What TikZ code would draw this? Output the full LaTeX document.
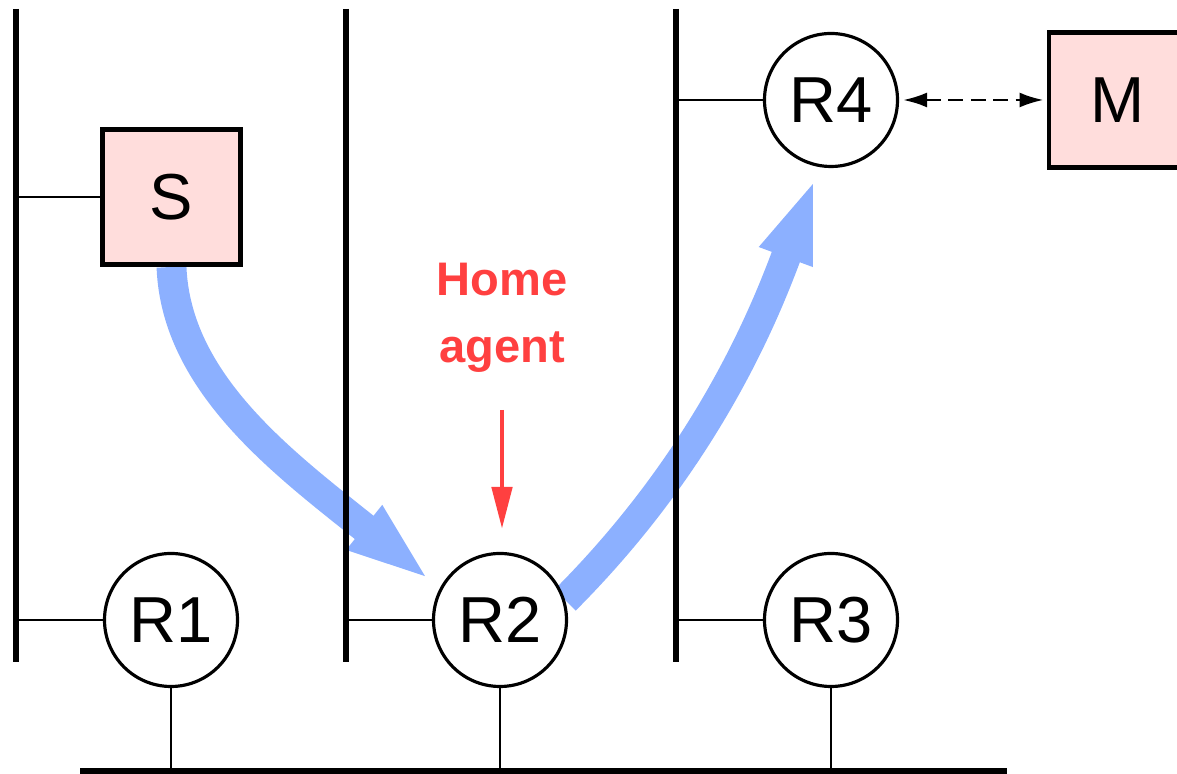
\documentclass[tikz,border=0pt]{standalone}
\usepackage{fontspec}
\setmainfont{Liberation Sans}
\usetikzlibrary{arrows.meta,positioning,calc,backgrounds}
\definecolor{hostpink}{HTML}{FFDDDC}
\definecolor{flowblue}{HTML}{8CB0FF}
\definecolor{agentred}{HTML}{FF4040}
\tikzset{
  router/.style={circle, draw, line width=0.9pt, fill=white, minimum size=1.33cm, inner sep=0pt},
  host/.style={rectangle, draw, line width=1.4pt, fill=hostpink, minimum width=1.38cm, minimum height=1.35cm, inner sep=0pt},
  lan/.style={line width=1.7pt},
  tap/.style={line width=0.75pt},
  flow/.style={flowblue, line width=8.5pt, -{Triangle[length=0.85cm,width=0.5cm]}}
}

\begin{document}
\begin{tikzpicture}[font=\fontsize{18.5}{22}\selectfont]
  \useasboundingbox (0,0) rectangle (11.77,7.74);

  % Backbone and the three LAN segments
  \coordinate (busL) at (0.80,0.03);
  \coordinate (busR) at (10.07,0.03);
  \draw[lan] (busL) -- (busR);
  \foreach \x/\n in {0.16/A,3.46/B,6.76/C} {
    \coordinate (lan\n-top) at (\x,7.65);
    \coordinate (lan\n-bot) at (\x,1.12);
    \draw[lan] (lan\n-top) -- (lan\n-bot);
  }

  % Hosts and routers
  \node[host] (S) at (1.715,5.77) {S};
  \node[host] (M) at (11.18,6.74) {M};
  \node[router] (R1) at (1.71,1.54) {R1};
  \node[router] (R2) at (5.00,1.54) {R2};
  \node[router] (R3) at (8.31,1.54) {R3};
  \node[router] (R4) at (8.31,6.74) {R4};

  % Attachments
  \draw[tap] (lanA-top |- S.west) -- (S.west);
  \draw[tap] (lanA-top |- R1.west) -- (R1.west);
  \draw[tap] (lanB-top |- R2.west) -- (R2.west);
  \draw[tap] (lanC-top |- R3.west) -- (R3.west);
  \draw[tap] (lanC-top |- R4.west) -- (R4.west);
  \foreach \r in {R1,R2,R3}
    \draw[tap] (\r.south) -- (\r.south |- busL);
  \draw[tap, dash pattern=on 4.2pt off 2.2pt, {Latex[length=2.4mm,width=1.5mm]}-{Latex[length=2.4mm,width=1.5mm]}, shorten <=0.04cm, shorten >=0.03cm] (R4.east) -- (M.west);

  % Home agent label
  \node[agentred, font=\fontsize{13.4}{19}\selectfont\bfseries, align=center] (ha) at (5.02,4.56) {Home\\agent};
  \draw[agentred, line width=1.4pt, -{Triangle[length=4.2mm,width=2mm]}, shorten <=0.25cm, shorten >=0.23cm] (ha.south) -- (ha.south |- R2.north);

  % Tunnelled packet flow
  \begin{scope}[on background layer]
    \draw[flow, shorten >=0.12cm] (S.south) .. controls (1.76,3.9) and (2.85,3.1) .. (R2.152);
    \draw[flow, shorten >=0.11cm] (R2.17) .. controls (7.06,3.15) and (7.64,4.58) .. (R4.260);
  \end{scope}
\end{tikzpicture}
\end{document}
